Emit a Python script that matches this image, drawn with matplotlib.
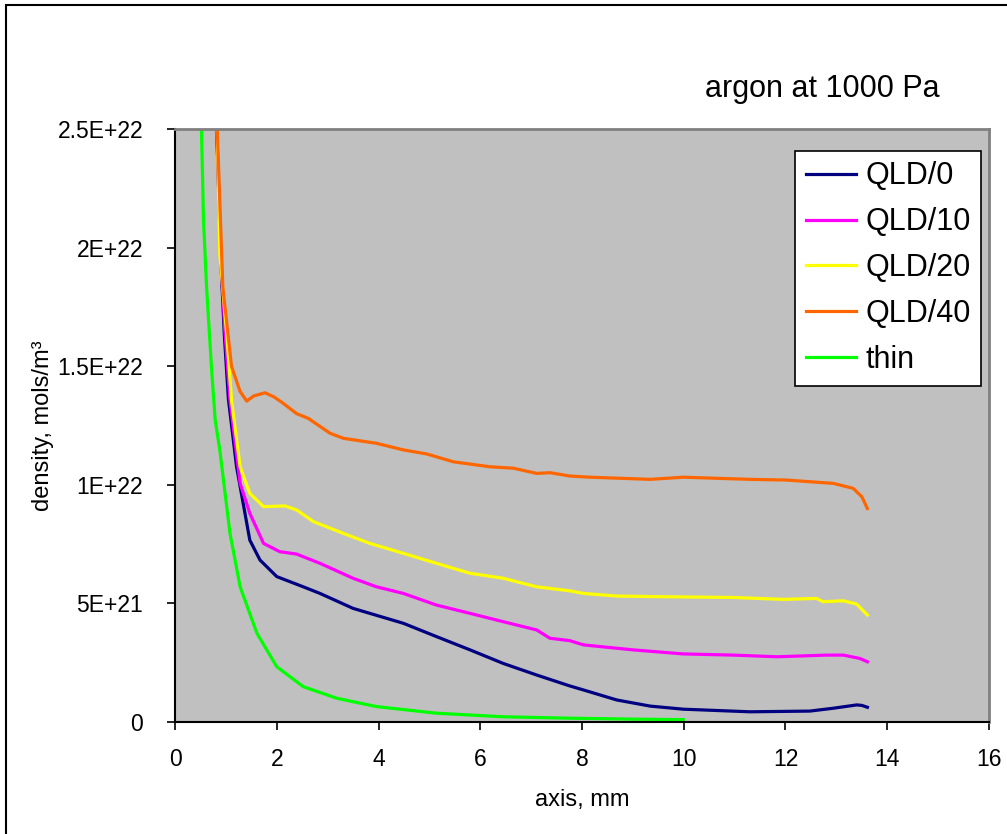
import matplotlib.pyplot as plt
from matplotlib.patches import Rectangle

plt.rcParams['font.family'] = ['Liberation Sans', 'DejaVu Sans']

# density along the axis, x in mm, density in units of 1e21 mols/m3
x_qld0 = [0.82, 0.90, 0.97, 1.05, 1.21, 1.47, 1.67, 2.00, 2.52, 2.85, 3.50, 4.49, 5.14,
          5.80, 6.45, 7.11, 7.76, 8.03, 8.68, 9.34, 9.99, 11.30, 12.48, 12.94, 13.40,
          13.50, 13.61]
y_qld0 = [25, 19.5, 16.3, 13.6, 10.76, 7.67, 6.83, 6.13, 5.70, 5.42, 4.79, 4.16, 3.60,
          3.04, 2.47, 1.98, 1.52, 1.35, 0.93, 0.67, 0.54, 0.43, 0.46, 0.58, 0.72,
          0.70, 0.62]

x_qld10 = [0.82, 0.90, 0.98, 1.08, 1.28, 1.47, 1.74, 2.06, 2.39, 2.85, 3.50, 3.96, 4.49,
           5.14, 5.80, 6.45, 7.11, 7.37, 7.76, 8.03, 9.01, 9.99, 10.97, 11.83, 12.81,
           13.14, 13.46, 13.61]
y_qld10 = [25, 19.6, 16.5, 13.57, 10.06, 8.80, 7.53, 7.18, 7.08, 6.69, 6.06, 5.70, 5.42,
           4.93, 4.58, 4.23, 3.88, 3.53, 3.43, 3.25, 3.04, 2.87, 2.82, 2.75, 2.82,
           2.82, 2.68, 2.54]

x_qld20 = [0.83, 0.88, 1.02, 1.11, 1.28, 1.47, 1.74, 2.16, 2.39, 2.72, 3.31, 3.83, 4.49,
           5.14, 5.80, 6.45, 7.11, 7.76, 8.03, 8.68, 9.66, 10.97, 11.96, 12.61, 12.74,
           13.14, 13.40, 13.61]
y_qld20 = [25, 19.76, 16.24, 13.57, 10.76, 9.64, 9.08, 9.11, 8.94, 8.45, 7.95, 7.53, 7.11,
           6.69, 6.27, 6.06, 5.70, 5.53, 5.42, 5.31, 5.28, 5.25, 5.17, 5.21, 5.07,
           5.11, 4.97, 4.51]

x_qld40 = [0.83, 0.94, 1.11, 1.28, 1.41, 1.55, 1.77, 1.95, 2.13, 2.39, 2.62, 3.05, 3.31,
           3.96, 4.49, 4.95, 5.47, 6.19, 6.65, 7.11, 7.37, 7.76, 8.16, 9.34, 9.99,
           11.30, 12.02, 12.94, 13.33, 13.50, 13.61]
y_qld40 = [25, 18.34, 15.0, 13.93, 13.53, 13.75, 13.88, 13.7, 13.43, 13.0, 12.8, 12.17,
           11.96, 11.75, 11.47, 11.3, 10.97, 10.76, 10.7, 10.48, 10.51, 10.37, 10.32,
           10.23, 10.32, 10.23, 10.2, 10.06, 9.85, 9.5, 9.0]

x_thin = [0.52, 0.56, 0.62, 0.72, 0.79, 0.88, 1.08, 1.28, 1.61, 2.00, 2.52, 3.18, 3.96,
          5.14, 6.45, 7.76, 9.00, 9.99]
y_thin = [25, 21.16, 18.35, 14.84, 12.73, 11.47, 7.96, 5.70, 3.74, 2.33, 1.49, 1.00, 0.65,
          0.37, 0.22, 0.16, 0.12, 0.10]

yticks = [0, 5e21, 1e22, 1.5e22, 2e22, 2.5e22]
ytick_labels = ['0', '5E+21', '1E+22', '1.5E+22', '2E+22', '2.5E+22']

fig = plt.figure(figsize=(10.07, 8.34), dpi=100)
ax = fig.add_axes([0.1738, 0.1343, 0.8083, 0.7110])
ax.set_facecolor('#C0C0C0')

lw = 2.3
ax.plot(x_qld0, [v * 1e21 for v in y_qld0], color='#000080', lw=lw, label='QLD/0')
ax.plot(x_qld10, [v * 1e21 for v in y_qld10], color='#FF00FF', lw=lw, label='QLD/10')
ax.plot(x_qld20, [v * 1e21 for v in y_qld20], color='#FFFF00', lw=lw, label='QLD/20')
ax.plot(x_qld40, [v * 1e21 for v in y_qld40], color='#FF6600', lw=lw, label='QLD/40')
ax.plot(x_thin, [v * 1e21 for v in y_thin], color='#00FF00', lw=lw, label='thin')

ax.set_xlim(0, 16)
ax.set_ylim(0, 2.5e22)
ax.set_xticks(range(0, 17, 2))
ax.set_yticks(yticks)
ax.set_yticklabels(ytick_labels)
ax.tick_params(axis='both', direction='out', length=6, width=1.2, labelsize=16.5)
ax.tick_params(axis='x', pad=13)
ax.tick_params(axis='y', pad=17)

for side in ['left', 'bottom']:
    ax.spines[side].set_color('black')
    ax.spines[side].set_linewidth(1.5)
for side in ['top', 'right']:
    ax.spines[side].set_color('#808080')
    ax.spines[side].set_linewidth(2)

ax.set_xlabel('axis, mm', fontsize=17, labelpad=13)
ax.set_ylabel('density, mols/m³', fontsize=17)
ax.yaxis.set_label_coords(-0.1486, 0.5)

leg = ax.legend(loc='upper left', bbox_to_anchor=(0.7895, 0.8193),
                bbox_transform=fig.transFigure, fontsize=22, frameon=True,
                fancybox=False, edgecolor='black', framealpha=1,
                handlelength=1.65, handletextpad=0.3, labelspacing=0.52,
                borderpad=0.35, borderaxespad=0)
leg.get_frame().set_linewidth(1.2)
for line in leg.get_lines():
    line.set_linewidth(2.3)

fig.text(0.7005, 0.893, 'argon at 1000 Pa', fontsize=22, ha='left', va='center')

# outer chart border
fig.patches.append(Rectangle((6 / 1007, -0.1), 1.2, 1.1 - 5 / 834,
                             transform=fig.transFigure, fill=False,
                             edgecolor='black', lw=1.5))

fig.savefig('out.png', dpi=100)
